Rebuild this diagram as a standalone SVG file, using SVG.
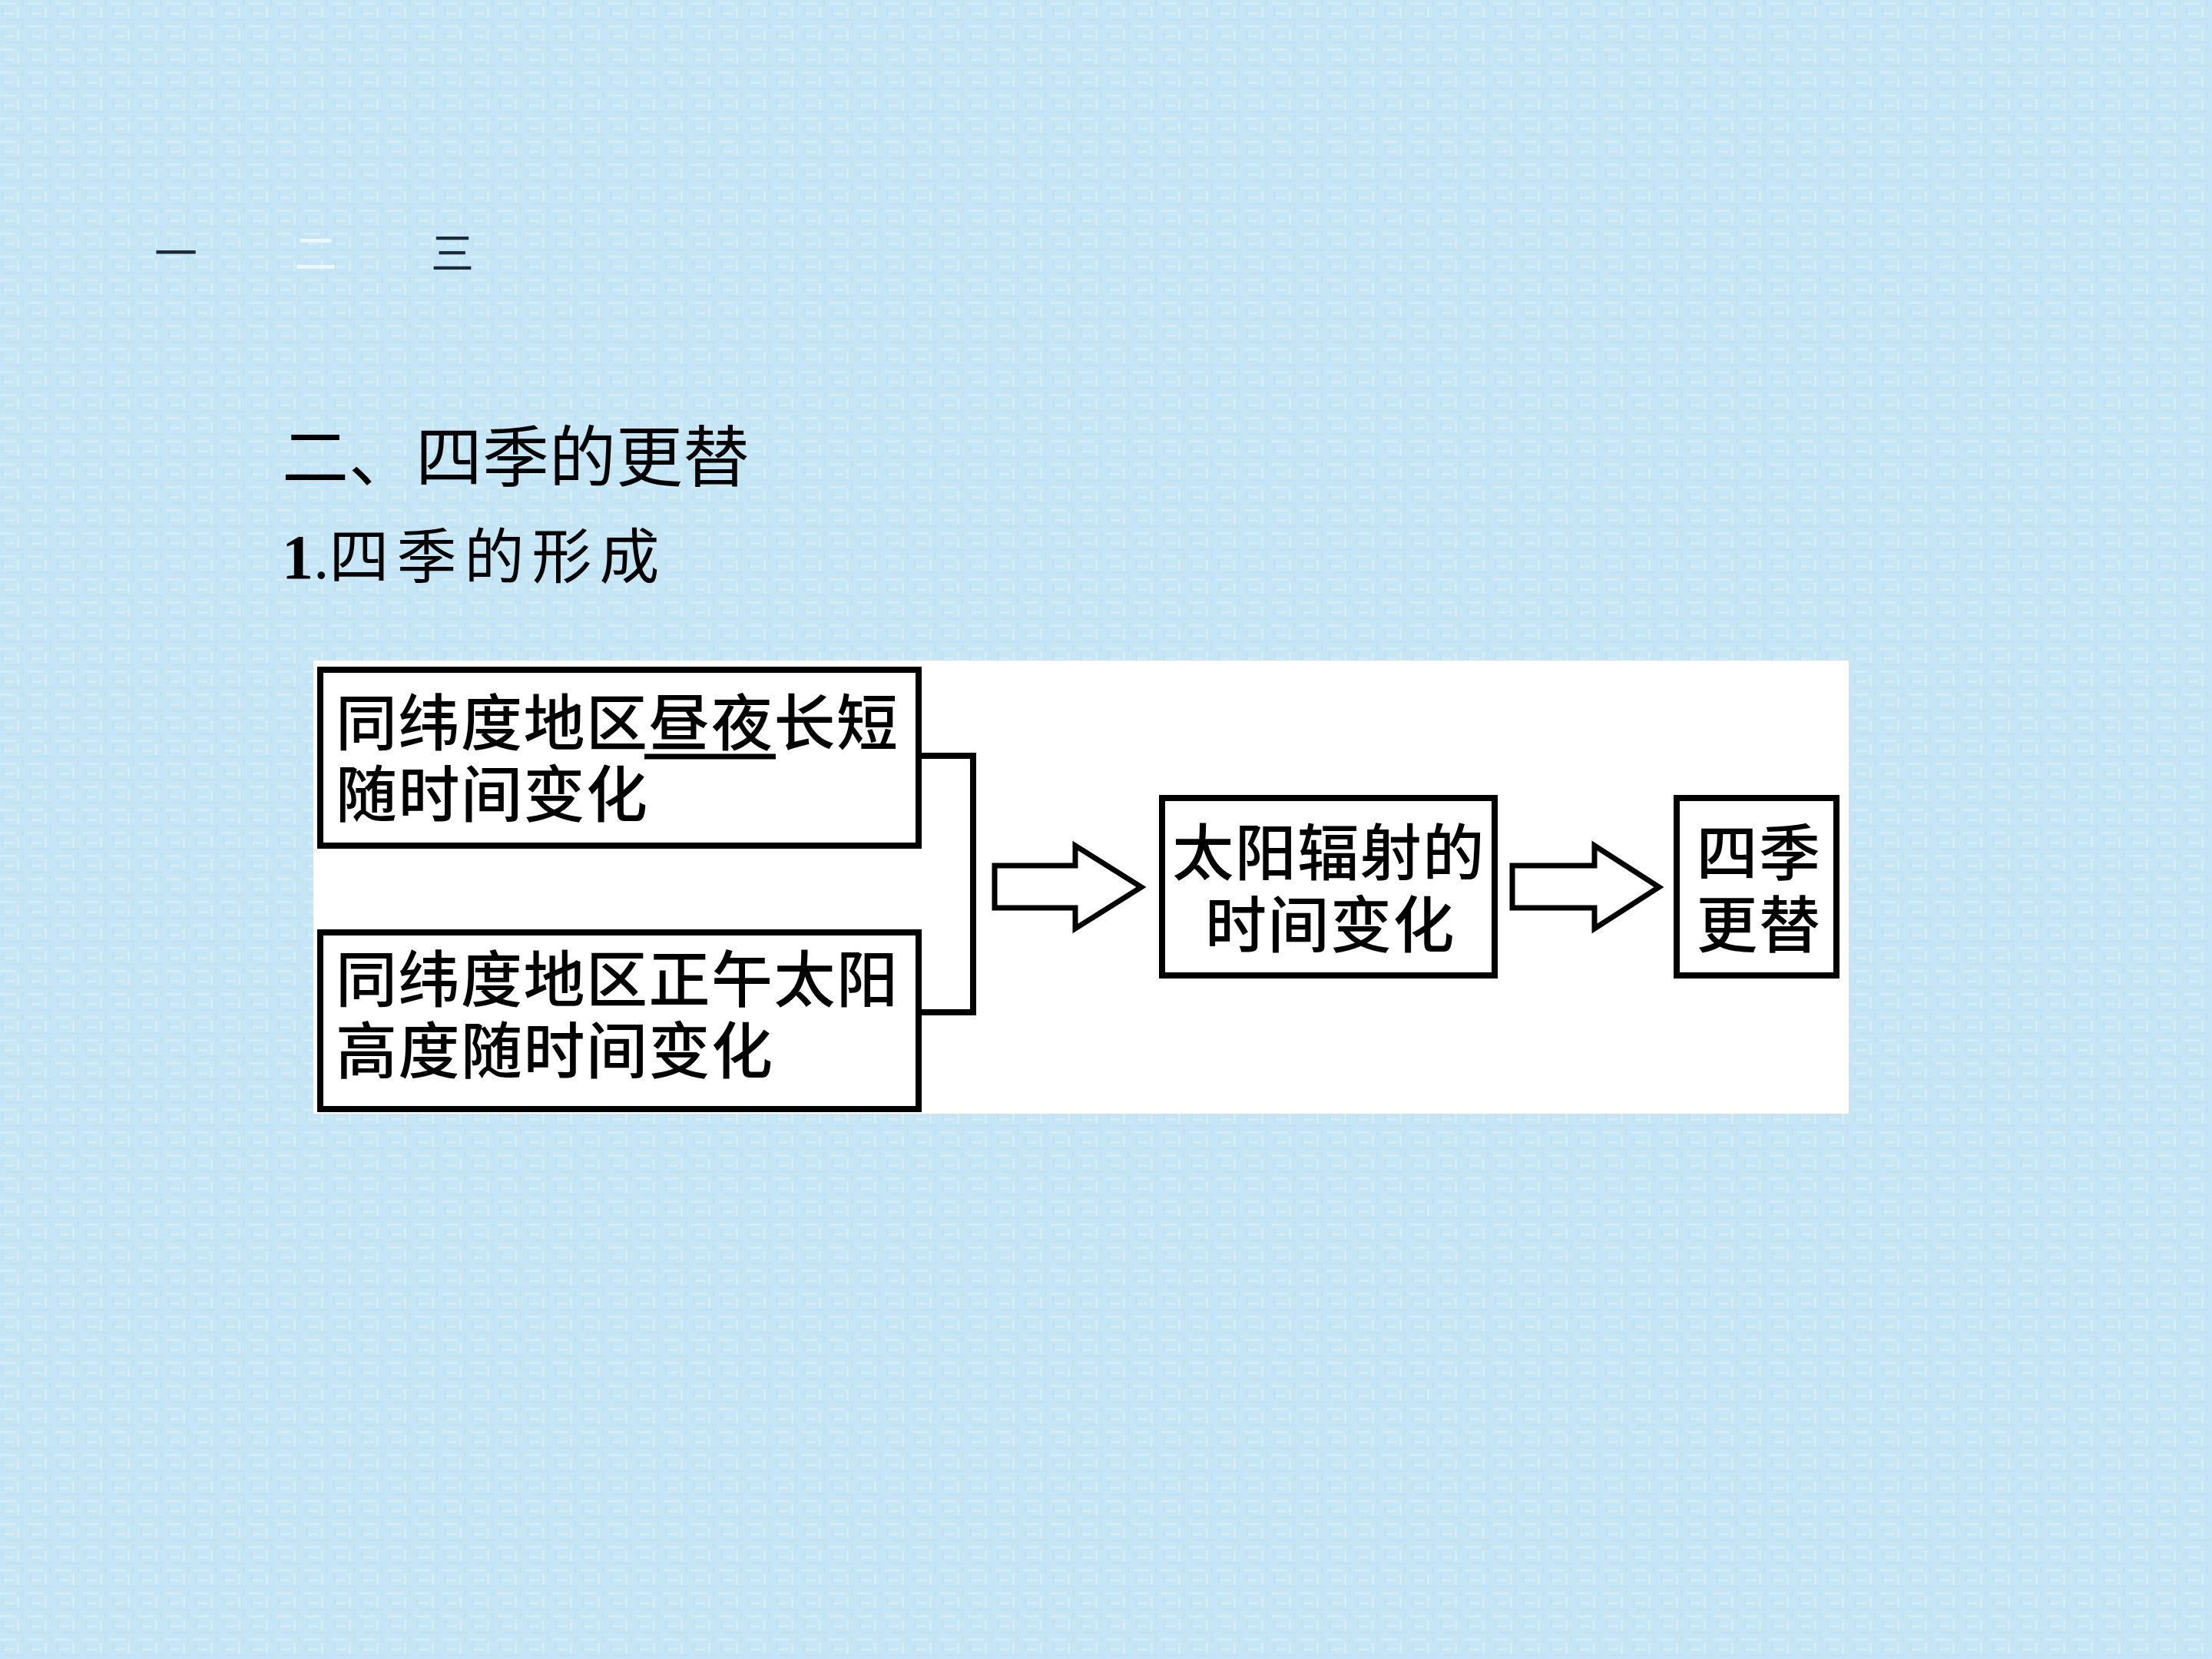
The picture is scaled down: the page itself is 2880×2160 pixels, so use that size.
<svg xmlns="http://www.w3.org/2000/svg" width="2880" height="2160" viewBox="0 0 2880 2160">
<style>
.cjk{font-family:"Noto Sans CJK SC","Noto Sans CJK JP",sans-serif;}
.box{fill:#ffffff;stroke:#000000;stroke-width:8;}
.conn{fill:none;stroke:#000000;stroke-width:8;stroke-linejoin:miter;}
.arrow{fill:#ffffff;stroke:#000000;stroke-width:7;stroke-linejoin:miter;}
.lbl{font-size:80px;font-weight:500;fill:#000000;letter-spacing:1.5px;}
</style>
<defs>
<pattern id="tex" width="36" height="30" patternUnits="userSpaceOnUse">
<rect width="36" height="30" fill="#c7e6f5"/>
<rect x="0" y="3" width="20" height="3" fill="#d2ecf8"/>
<rect x="22" y="9" width="3" height="14" fill="#d2ecf8"/>
<rect x="4" y="16" width="14" height="3" fill="#d2ecf8"/>
<rect x="28" y="0" width="3" height="8" fill="#bfe1f1"/>
<rect x="8" y="24" width="24" height="3" fill="#c0e2f2"/>
<rect x="2" y="8" width="3" height="12" fill="#c0e2f2"/>
</pattern>
</defs>
<rect width="2880" height="2160" fill="url(#tex)"/>

<g id="tabs" class="cjk" font-size="56">
<text x="229" y="350" text-anchor="middle" fill="#1b2b3b">一</text>
<text x="411" y="350" text-anchor="middle" fill="#eef8fc">二</text>
<text x="589" y="350" text-anchor="middle" fill="#1b2b3b">三</text>
</g>

<g id="title">
<text class="cjk" x="367" y="627" font-size="87" fill="#000">二、四季的更替</text>
<text x="367" y="753" fill="#000"><tspan font-family="Liberation Serif,serif" font-weight="bold" font-size="82">1</tspan><tspan font-family="Liberation Serif,serif" font-size="82">.</tspan><tspan class="cjk" font-size="78" letter-spacing="10">四季的形成</tspan></text>
</g>

<rect id="panel" x="408" y="860" width="1999" height="590" fill="#ffffff"/>

<g id="connectors">
<path class="conn" d="M1196 984 H1267 V1318 H1196"/>
<polygon class="arrow" points="1295,1127 1400,1127 1400,1101 1486,1155 1400,1209 1400,1182 1295,1182"/>
<polygon class="arrow" points="1969,1127 2076,1127 2076,1101 2160,1155 2076,1209 2076,1182 1969,1182"/>
</g>

<g id="node1">
<rect class="box" x="417" y="872" width="779" height="229"/>
<text class="cjk lbl" x="437" y="970">同纬度地区昼夜长短</text>
<text class="cjk lbl" x="437" y="1063">随时间变化</text>
<line x1="839" y1="985" x2="1010" y2="985" stroke="#000" stroke-width="7"/>
</g>

<g id="node2">
<rect class="box" x="417" y="1214" width="779" height="230"/>
<text class="cjk lbl" x="437" y="1304">同纬度地区正午太阳</text>
<text class="cjk lbl" x="437" y="1397">高度随时间变化</text>
</g>

<g id="node3">
<rect class="box" x="1513" y="1039" width="433" height="231"/>
<text class="cjk lbl" x="1730" y="1139" text-anchor="middle">太阳辐射的</text>
<text class="cjk lbl" x="1732" y="1233" text-anchor="middle">时间变化</text>
</g>

<g id="node4">
<rect class="box" x="2183" y="1039" width="208" height="231"/>
<text class="cjk lbl" x="2290" y="1139" text-anchor="middle">四季</text>
<text class="cjk lbl" x="2290" y="1233" text-anchor="middle">更替</text>
</g>
</svg>
